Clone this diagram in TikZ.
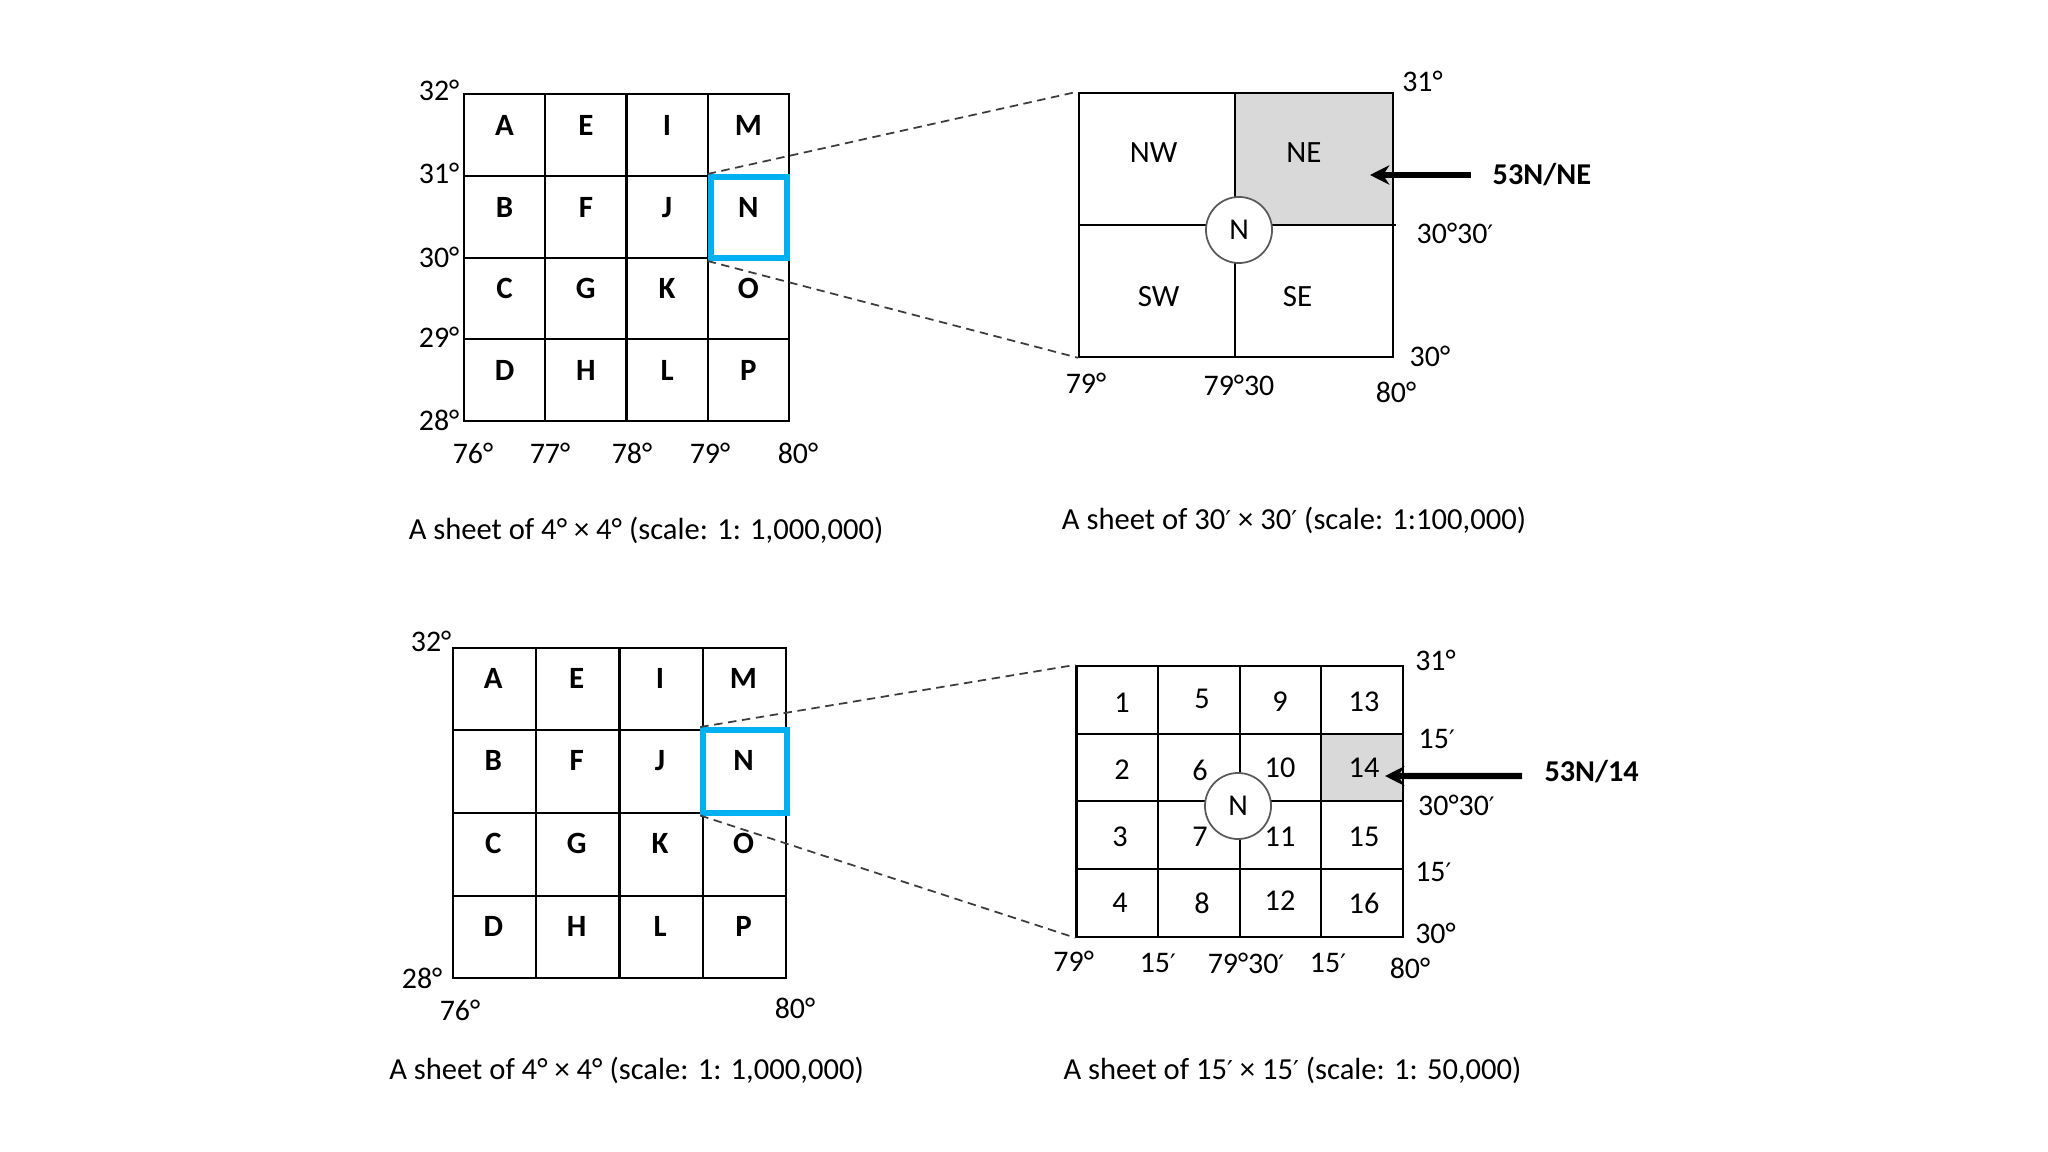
\documentclass[tikz,border=0pt]{standalone}
\usepackage{fontspec}
\setmainfont{Carlito}
\newfontfamily\primefont{DejaVu Sans}
\newcommand{\primemark}{{\primefont\fontsize{0.85em}{1em}\selectfont ′}}
\usetikzlibrary{arrows.meta}
\definecolor{skyblue}{RGB}{0,176,240}
\definecolor{shadegray}{RGB}{217,217,217}
\definecolor{dashgray}{RGB}{60,60,60}
\begin{document}
\begin{tikzpicture}[x=0.01cm, y=-0.01cm,
  gridline/.style={line width=0.6pt, black},
  mapframe/.style={draw=black, line width=0.6pt, inner sep=0},
  selbox/.style={draw=skyblue, line width=1.7pt, inner sep=0},
  cellbold/.style={font=\fontsize{8.8}{10}\selectfont\bfseries, inner sep=0},
  deglbl/.style={font=\fontsize{8.5}{10}\selectfont, inner sep=0},
  quadlbl/.style={font=\fontsize{8.8}{10}\selectfont, inner sep=0},
  numlbl/.style={font=\fontsize{8.6}{10}\selectfont, inner sep=0},
  captionlbl/.style={font=\fontsize{8.7}{10}\selectfont, inner sep=0},
  callout/.style={font=\fontsize{8.6}{10}\selectfont\bfseries, inner sep=0, anchor=west},
  pointer/.style={line width=1.8pt, -{Stealth[length=5.5pt,width=5.5pt]}},
  zoomline/.style={dash pattern=on 2.4pt off 1.6pt, line width=0.5pt, dashgray},
  hub/.style={circle, draw=black!65, line width=0.5pt, fill=white, minimum size=0.66cm, inner sep=0, font=\fontsize{8.6}{10}\selectfont}
]
\useasboundingbox (0,0) rectangle (2048,1152);

% ---------- top-left 4x4 sheet ----------
\node[mapframe, minimum width=3.25cm, minimum height=3.265cm] (mapA) at (626.5,257.75) {};
\foreach \k in {1,2,3} {
  \draw[gridline] ({464+81.25*\k},94.5) -- ({464+81.25*\k},421);
  \draw[gridline] (464,{94.5+81.625*\k}) -- (789,{94.5+81.625*\k});
}
\foreach \l/\i/\j in {A/0/0,B/0/1,C/0/2,D/0/3,E/1/0,F/1/1,G/1/2,H/1/3,I/2/0,J/2/1,K/2/2,L/2/3,M/3/0,N/3/1,O/3/2,P/3/3}
  \node[cellbold] (a\l) at ({504.6+81.25*\i},{125.5+81.625*\j}) {\l};
\node[selbox, minimum width=0.76cm, minimum height=0.81cm] (selA) at (748.6,217.5) {};
\foreach \t/\y [count=\n] in {32/90,31/173,30/257,29/337,28/420}
  \node[deglbl, anchor=east] (ayl\n) at (460,\y) {\t°};
\foreach \t/\x [count=\n] in {76/473,77/550,78/632,79/710,80/798}
  \node[deglbl] (axl\n) at (\x,453) {\t°};
\node[captionlbl] (capA) at (646,530) {A sheet of 4° × 4° (scale: 1: 1,000,000)};

% ---------- top-right 30' x 30' sheet ----------
\fill[shadegray] (1235,92.7) rectangle (1392.8,224.7);
\node[mapframe, minimum width=3.134cm, minimum height=2.64cm] (sheetA) at (1236.1,224.7) {};
\draw[gridline] (1235,92.7) -- (1235,356.7);
\draw[gridline] (1079.4,224.7) -- (1396,224.7);
\node[hub] (hubA) at (1239,230) {N};
\node[quadlbl] (qNW) at (1153.7,153) {NW};
\node[quadlbl] (qNE) at (1304,153) {NE};
\node[quadlbl] (qSW) at (1158.6,296.7) {SW};
\node[quadlbl] (qSE) at (1297.5,296.7) {SE};
\node[deglbl, anchor=west] (byl1) at (1401.6,81.7) {31°};
\node[deglbl, anchor=west] (byl2) at (1416,233) {30°30\primemark};
\node[deglbl, anchor=west] (byl3) at (1409,356.7) {30°};
\node[deglbl] (bxl1) at (1086,383) {79°};
\node[deglbl] (bxl2) at (1239,385) {79°30};
\node[deglbl] (bxl3) at (1396,392) {80°};
\node[callout] (codeA) at (1492,175) {53N/NE};
\coordinate (tipA) at (1370,175);
\draw[pointer] ([xshift=-0.215cm]codeA.west) -- (tipA);
\node[captionlbl] (capB) at (1294,520) {A sheet of 30\primemark{} × 30\primemark{} (scale: 1:100,000)};
\draw[zoomline] (selA.north west) -- (sheetA.north west);
\draw[zoomline] (selA.south west) -- (sheetA.south west);

% ---------- bottom-left 4x4 sheet ----------
\node[mapframe, minimum width=3.336cm, minimum height=3.306cm] (mapB) at (619.5,813) {};
\foreach \k in {1,2,3} {
  \draw[gridline] ({452.7+83.4*\k},647.7) -- ({452.7+83.4*\k},978.3);
  \draw[gridline] (452.7,{647.7+82.65*\k}) -- (786.3,{647.7+82.65*\k});
}
\foreach \l/\i/\j in {A/0/0,B/0/1,C/0/2,D/0/3,E/1/0,F/1/1,G/1/2,H/1/3,I/2/0,J/2/1,K/2/2,L/2/3,M/3/0,N/3/1,O/3/2,P/3/3}
  \node[cellbold] (c\l) at ({493.3+83.4*\i},{678.3+82.65*\j}) {\l};
\node[selbox, minimum width=0.834cm, minimum height=0.825cm] (selB) at (745,771.25) {};
\node[deglbl, anchor=east] (cyl1) at (452,641.7) {32°};
\node[deglbl, anchor=east] (cyl2) at (443,978) {28°};
\node[deglbl] (cxl1) at (460,1010) {76°};
\node[deglbl] (cxl2) at (795,1008) {80°};
\node[captionlbl] (capC) at (626.5,1070) {A sheet of 4° × 4° (scale: 1: 1,000,000)};

% ---------- bottom-right 15' x 15' sheet ----------
\fill[shadegray] (1321.6,733.7) rectangle (1402.8,801.4);
\node[mapframe, minimum width=3.262cm, minimum height=2.707cm] (sheetB) at (1239.7,801.35) {};
\foreach \k in {1,2,3} {
  \draw[gridline] ({1076.6+81.55*\k},666) -- ({1076.6+81.55*\k},936.7);
  \draw[gridline] (1076.6,{666+67.675*\k}) -- (1402.8,{666+67.675*\k});
}
\foreach \t/\x/\y in {1/1122/703,2/1122/770,3/1120/837,4/1120/903,5/1202/699,6/1200/770,7/1200/837,8/1202/903,9/1280/702,10/1280/768,11/1280/837,12/1280/901,13/1364/702,14/1364/768,15/1364/837,16/1364/903}
  \node[numlbl] (d\t) at (\x,\y) {\t};
\node[hub] (hubB) at (1238,806) {N};
\node[deglbl, anchor=west] (dyl1) at (1414.6,660) {31°};
\node[deglbl, anchor=west] (dyl2) at (1418,739) {15\primemark};
\node[deglbl, anchor=west] (dyl3) at (1417.5,805) {30°30\primemark};
\node[deglbl, anchor=west] (dyl4) at (1414.6,871.7) {15\primemark};
\node[deglbl, anchor=west] (dyl5) at (1414.6,933) {30°};
\node[deglbl] (dxl1) at (1073.7,961.7) {79°};
\node[deglbl] (dxl2) at (1157.8,963) {15\primemark};
\node[deglbl] (dxl3) at (1246,963) {79°30\primemark};
\node[deglbl] (dxl4) at (1328,963) {15\primemark};
\node[deglbl] (dxl5) at (1410,968) {80°};
\node[callout] (codeB) at (1543.8,772) {53N/14};
\coordinate (tipB) at (1385,776);
\draw[pointer] ([xshift=-0.218cm, yshift=-0.04cm]codeB.west) -- (tipB);
\node[captionlbl] (capD) at (1292.5,1070) {A sheet of 15\primemark{} × 15\primemark{} (scale: 1: 50,000)};
\draw[zoomline] (selB.north west) -- (sheetB.north west);
\draw[zoomline] (selB.south west) -- (sheetB.south west);
\end{tikzpicture}
\end{document}
